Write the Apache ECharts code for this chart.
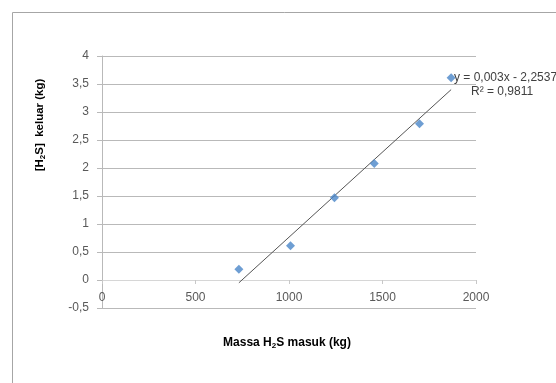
<!DOCTYPE html>
<html>
<head>
<meta charset="utf-8">
<script src="https://cdn.jsdelivr.net/npm/echarts@6/dist/echarts.min.js"></script>
<style>
html, body { margin: 0; padding: 0; background: #fff; }
#main { width: 556px; height: 383px; }
</style>
</head>
<body>
<div id="main"></div>
<script>
// data
var massaMasuk = [732, 1008, 1243, 1456, 1698, 1867];
var h2sKeluar = [0.19, 0.61, 1.47, 2.08, 2.79, 3.61];
// trendline ends (min x, max x) as drawn
var trendX = [732, 1867];
var trendY = [-0.05, 3.40];
var eqText = 'y = 0,003x - 2,2537';
var r2Text = 'R\u00b2 = 0,9811';

var points = massaMasuk.map(function (x, i) { return [x, h2sKeluar[i]]; });
var trend = trendX.map(function (x, i) { return [x, trendY[i]]; });

var font = '"Liberation Sans", Arial, sans-serif';
var gridColor = '#b9b9b9';
var labelColor = '#595959';

var myChart = echarts.init(document.getElementById('main'));
var option = {
    backgroundColor: '#fff',
    animation: false,
    grid: { left: 102, right: 80, top: 56, bottom: 75 },
    xAxis: {
        type: 'value',
        min: 0, max: 2000, interval: 500,
        // axis sits on y = 0, half a unit (28px) above the grid bottom
        offset: -28,
        axisLine: { show: true, onZero: false, lineStyle: { color: '#d6d6d6' } },
        axisTick: { show: true, length: 4, lineStyle: { color: '#c8c8c8' } },
        splitLine: { show: false },
        axisLabel: {
            color: labelColor, fontFamily: font, fontSize: 12, margin: 12,
            formatter: function (v) { return String(v); }
        }
    },
    yAxis: {
        type: 'value',
        min: -0.5, max: 4, interval: 0.5,
        axisLine: { show: true, onZero: false, lineStyle: { color: gridColor } },
        axisTick: { show: true, length: 5, lineStyle: { color: gridColor } },
        splitLine: { show: true, lineStyle: { color: gridColor } },
        axisLabel: {
            color: labelColor, fontFamily: font, fontSize: 12, margin: 13,
            formatter: function (v) { return String(v).replace('.', ','); }
        }
    },
    series: [{
        type: 'line',
        data: trend,
        symbol: 'none',
        lineStyle: { color: '#555', width: 1 },
        z: 3
    }, {
        type: 'scatter',
        data: points,
        symbol: 'diamond',
        symbolSize: 9,
        itemStyle: { color: '#4a86c8' },
        z: 4
    }],
    graphic: [{
        type: 'line',
        shape: { x1: 12.5, y1: 12.5, x2: 556, y2: 12.5 },
        style: { stroke: '#a6a6a6', lineWidth: 1 },
        silent: true
    }, {
        type: 'line',
        shape: { x1: 12.5, y1: 12.5, x2: 12.5, y2: 383 },
        style: { stroke: '#a6a6a6', lineWidth: 1 },
        silent: true
    }, {
        type: 'text',
        x: 454, y: 72,
        style: { text: eqText, fill: '#404040', font: '12px ' + font }
    }, {
        type: 'text',
        x: 471, y: 86,
        style: { text: r2Text, fill: '#404040', font: '12px ' + font }
    }, {
        type: 'text',
        x: 287, y: 343,
        style: {
            text: '{a|Massa H}{s|2}{a|S masuk (kg)}',
            align: 'center', verticalAlign: 'middle',
            rich: {
                a: { fontFamily: font, fontSize: 12, fontWeight: 'bold', color: '#262626' },
                s: { fontFamily: font, fontSize: 8, fontWeight: 'bold', color: '#262626', padding: [6, 0, 0, 0] }
            }
        }
    }, {
        type: 'text',
        x: 40, y: 125,
        rotation: Math.PI / 2,
        style: {
            text: '{a|[H}{s|2}{a|S]  keluar (kg)}',
            align: 'center', verticalAlign: 'middle',
            rich: {
                a: { fontFamily: font, fontSize: 11.5, fontWeight: 'bold', color: '#262626' },
                s: { fontFamily: font, fontSize: 8, fontWeight: 'bold', color: '#262626', padding: [6, 0, 0, 0] }
            }
        }
    }]
};
myChart.setOption(option);
</script>
</body>
</html>
